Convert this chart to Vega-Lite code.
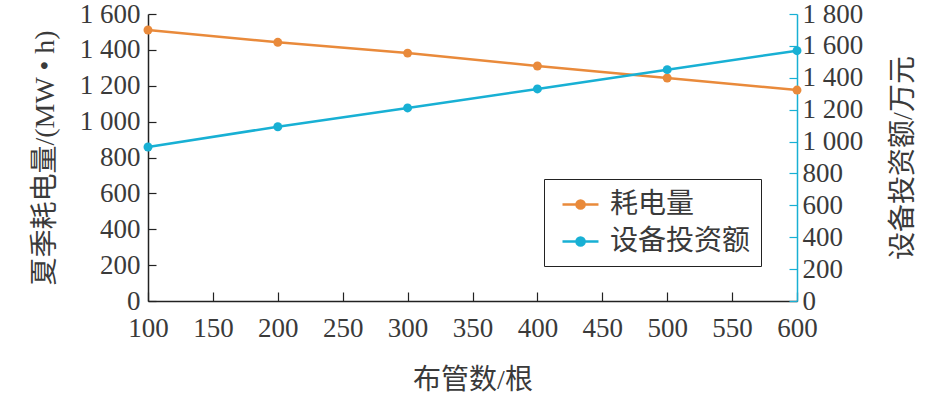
{
  "$schema": "https://vega.github.io/schema/vega-lite/v6.json",
  "autosize": {"type": "none"},
  "width": 649,
  "height": 287,
  "padding": {"left": 148, "top": 14, "right": 148, "bottom": 95},
  "background": "white",
  "config": {
    "view": {"stroke": null},
    "font": "Liberation Serif, Noto Sans CJK SC",
    "axis": {
      "grid": false,
      "labelFont": "Liberation Serif",
      "labelFontSize": 27,
      "labelColor": "#3a3a3a",
      "titleFont": "Liberation Serif, Noto Sans CJK SC",
      "titleFontSize": 28,
      "titleFontWeight": "normal",
      "titleColor": "#3a3a3a",
      "domainWidth": 1.5,
      "tickWidth": 1.2
    }
  },
  "data": {
    "values": [
      {"n": 100, "power": 1511, "invest": 966},
      {"n": 200, "power": 1442, "invest": 1093},
      {"n": 300, "power": 1382, "invest": 1211},
      {"n": 400, "power": 1310, "invest": 1330},
      {"n": 500, "power": 1243, "invest": 1451},
      {"n": 600, "power": 1176, "invest": 1570}
    ]
  },
  "encoding": {
    "x": {
      "field": "n",
      "type": "quantitative",
      "scale": {"domain": [100, 600], "nice": false},
      "axis": {
        "title": "布管数/根",
        "values": [100, 150, 200, 250, 300, 350, 400, 450, 500, 550, 600],
        "domainColor": "#222222",
        "tickColor": "#222222",
        "tickSize": -9,
        "labelPadding": 23,
        "titlePadding": 25,
        "labelFlush": false
      }
    }
  },
  "layer": [
    {
      "mark": {"type": "line", "strokeWidth": 2.5, "point": {"size": 80, "filled": true}},
      "encoding": {
        "y": {
          "field": "power",
          "type": "quantitative",
          "scale": {"domain": [0, 1600], "nice": false},
          "axis": {
            "title": "夏季耗电量/(MW • h)",
            "orient": "left",
            "values": [0, 200, 400, 600, 800, 1000, 1200, 1400, 1600],
            "labelExpr": "replace(format(datum.value, ','), ',', ' ')",
            "domainColor": "#222222",
            "tickColor": "#222222",
            "tickSize": -8,
            "labelPadding": 16,
            "titlePadding": 20,
            "labelFlush": false
          }
        },
        "color": {
          "datum": "耗电量",
          "type": "nominal",
          "scale": {"domain": ["耗电量", "设备投资额"], "range": ["#E98A3B", "#18B0D4"]},
          "legend": {
            "title": null,
            "orient": "none",
            "legendX": 396,
            "legendY": 165,
            "strokeColor": "#222222",
            "padding": 10,
            "labelFont": "Noto Sans CJK SC",
            "labelFontSize": 28,
            "labelColor": "#3a3a3a",
            "symbolType": "M-0.5,0L2.07,0M0.5,0A0.29,0.29,0,1,1,1.08,0A0.29,0.29,0,1,1,0.5,0",
            "symbolSize": 784,
            "symbolStrokeWidth": 2.5,
            "rowPadding": 7,
            "labelOffset": 25
          }
        }
      }
    },
    {
      "mark": {"type": "line", "strokeWidth": 2.5, "point": {"size": 80, "filled": true}},
      "encoding": {
        "y": {
          "field": "invest",
          "type": "quantitative",
          "scale": {"domain": [0, 1800], "nice": false},
          "axis": {
            "title": "设备投资额/万元",
            "orient": "right",
            "titleAngle": -90,
            "titleBaseline": "top",
            "values": [0, 200, 400, 600, 800, 1000, 1200, 1400, 1600, 1800],
            "labelExpr": "replace(format(datum.value, ','), ',', ' ')",
            "domainColor": "#18B0D4",
            "tickColor": "#18B0D4",
            "tickSize": -8,
            "labelPadding": 13,
            "titlePadding": 27,
            "labelFlush": false
          }
        },
        "color": {"datum": "设备投资额", "type": "nominal"}
      }
    }
  ],
  "resolve": {"scale": {"y": "independent"}}
}
